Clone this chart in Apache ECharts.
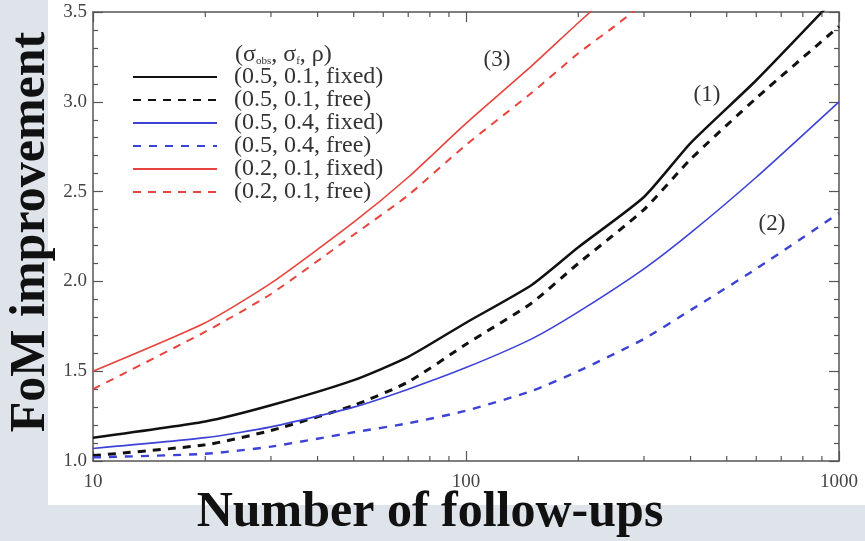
<!DOCTYPE html>
<html>
<head>
<meta charset="utf-8">
<script src="https://cdn.jsdelivr.net/npm/echarts@6/dist/echarts.min.js"></script>
<style>html,body{margin:0;padding:0;}#c{width:865px;height:541px;}</style>
</head>
<body>
<div id="c"></div>
<script>
// ---- data ----
var followUps = [10, 20, 30, 50, 70, 100, 150, 200, 300, 400, 600, 1000];
var blackFixed = [1.13, 1.22, 1.31, 1.45, 1.58, 1.77, 1.98, 2.19, 2.47, 2.77, 3.12, 3.60];
var blackFree  = [1.03, 1.09, 1.17, 1.31, 1.44, 1.65, 1.88, 2.10, 2.40, 2.68, 3.02, 3.42];
var blueFixed  = [1.07, 1.13, 1.19, 1.30, 1.40, 1.52, 1.68, 1.83, 2.07, 2.27, 2.58, 3.00];
var blueFree   = [1.02, 1.04, 1.08, 1.16, 1.21, 1.28, 1.39, 1.50, 1.68, 1.84, 2.07, 2.38];
var redN       = [10, 20, 30, 50, 70, 100, 150, 200, 250, 300];
var redFixed   = [1.50, 1.77, 1.99, 2.33, 2.58, 2.88, 3.20, 3.44, 3.62, 3.76];
var redFree    = [1.40, 1.72, 1.93, 2.26, 2.48, 2.76, 3.05, 3.27, 3.42, 3.55];
var seriesNames = ['(0.5, 0.1, fixed)', '(0.5, 0.1, free)', '(0.5, 0.4, fixed)', '(0.5, 0.4, free)', '(0.2, 0.1, fixed)', '(0.2, 0.1, free)'];
var minorXTicks = [20, 30, 40, 50, 60, 70, 80, 90, 200, 300, 400, 500, 600, 700, 800, 900];
var curveLabels = [{t: '(3)', x: 497, y: 60}, {t: '(1)', x: 707, y: 95}, {t: '(2)', x: 772, y: 224}];

function pairs(xs, ys) { return xs.map(function (x, i) { return [x, ys[i]]; }); }

var chart = echarts.init(document.getElementById('c'), null, {renderer: 'canvas'});
var serif = 'Liberation Serif';
var frameColor = '#555';

function mkX(pos, showLabel) {
  return {
    type: 'log', logBase: 10, min: 10, max: 1000, position: pos,
    axisLine: {show: true, onZero: false, lineStyle: {color: frameColor, width: 1.5}},
    axisTick: {show: true, inside: true, length: 10, lineStyle: {color: frameColor, width: 1.2}},
    axisLabel: {show: showLabel, fontFamily: serif, fontSize: 19, color: '#444', margin: 12,
      formatter: function (v) { return String(Math.round(v)); }},
    splitLine: {show: false}, minorTick: {show: false}
  };
}
function mkY(pos, showLabel) {
  return {
    type: 'value', min: 1, max: 3.5, interval: 0.5, position: pos,
    axisLine: {show: true, onZero: false, lineStyle: {color: frameColor, width: 1.5}},
    axisTick: {show: true, inside: true, length: 10, lineStyle: {color: frameColor, width: 1.2}},
    minorTick: {show: true, splitNumber: 5, length: 5, lineStyle: {color: frameColor, width: 1.2}},
    axisLabel: {show: showLabel, fontFamily: serif, fontSize: 19, color: '#444', margin: 6,
      formatter: function (v) { return v.toFixed(1); }},
    splitLine: {show: false}
  };
}

function lineSeries(name, data, color, width, type) {
  return {
    name: name, type: 'line', data: data, xAxisIndex: 0, yAxisIndex: 0,
    symbol: 'none', showSymbol: false, smooth: 0.2, clip: true, silent: true,
    lineStyle: {color: color, width: width, type: type},
    itemStyle: {color: color}, z: 3
  };
}

var black = '#111111', blue = '#3c42d6', red = '#e6443d';

var graphics = [
  {type: 'rect', z: -100, silent: true, shape: {x: 48, y: 0, width: 817, height: 505}, style: {fill: '#ffffff'}},
  {type: 'text', silent: true, x: 31, y: 232, rotation: Math.PI / 2,
    style: {text: 'FoM improvement', fontFamily: serif, fontWeight: 'bold', fontSize: 50, fill: '#111',
      align: 'center', verticalAlign: 'middle'}},
  {type: 'text', silent: true, x: 430, y: 513,
    style: {text: 'Number of follow-ups', fontFamily: serif, fontWeight: 'bold', fontSize: 50, fill: '#111',
      align: 'center', verticalAlign: 'middle'}},
  {type: 'text', silent: true, x: 235, y: 55,
    style: {text: '(σ{sub|obs}, σ{sub|f}, ρ)', fontFamily: serif, fontSize: 24, fill: '#333',
      align: 'left', verticalAlign: 'middle',
      rich: {sub: {fontFamily: serif, fontSize: 11, fill: '#333', padding: [12, 0, 0, 0]}}}}
];
curveLabels.forEach(function (c) {
  graphics.push({type: 'text', silent: true, x: c.x, y: c.y,
    style: {text: c.t, fontFamily: serif, fontSize: 23, fill: '#333', align: 'center', verticalAlign: 'middle'}});
});

chart.setOption({
  backgroundColor: '#dfe4eb',
  animation: false,
  grid: {left: 93, top: 12, right: 26, bottom: 80, show: false},
  xAxis: [mkX('bottom', true), mkX('top', false)],
  yAxis: [mkY('left', true), mkY('right', false)],
  legend: {
    show: true, orient: 'vertical', left: 132, top: 65, padding: 0, itemGap: -1,
    itemWidth: 84, itemHeight: 14, selectedMode: false,
    itemStyle: {opacity: 0},
    data: seriesNames,
    textStyle: {fontFamily: serif, fontSize: 24, color: '#333', lineHeight: 22, padding: [0, 0, 0, 12]}
  },
  graphic: graphics,
  series: [
    lineSeries(seriesNames[0], pairs(followUps, blackFixed), black, 2.5, 'solid'),
    lineSeries(seriesNames[1], pairs(followUps, blackFree), black, 3, [8, 7]),
    lineSeries(seriesNames[2], pairs(followUps, blueFixed), blue, 1.6, 'solid'),
    lineSeries(seriesNames[3], pairs(followUps, blueFree), blue, 2.4, [8, 8]),
    lineSeries(seriesNames[4], pairs(redN, redFixed), red, 1.6, 'solid'),
    lineSeries(seriesNames[5], pairs(redN, redFree), red, 2, [8, 7]),
    {
      name: 'minorTicks', type: 'custom', xAxisIndex: 0, yAxisIndex: 0, silent: true, clip: false, z: 4,
      data: minorXTicks.map(function (v) { return [v, 1]; }),
      renderItem: function (params, api) {
        var b = api.coord([api.value(0), 1.0]);
        var t = api.coord([api.value(0), 3.5]);
        var st = {stroke: frameColor, lineWidth: 1.2};
        return {type: 'group', children: [
          {type: 'line', shape: {x1: b[0], y1: b[1], x2: b[0], y2: b[1] - 5}, style: st},
          {type: 'line', shape: {x1: t[0], y1: t[1], x2: t[0], y2: t[1] + 5}, style: st}
        ]};
      }
    }
  ]
});
</script>
</body>
</html>
